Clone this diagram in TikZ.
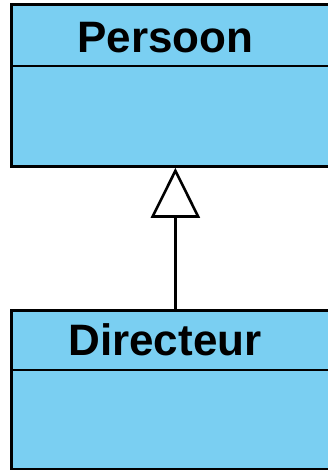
\documentclass[tikz,border=0pt]{standalone}
\usepackage{fontspec}
\setmainfont{Liberation Sans}
\usetikzlibrary{arrows.meta}
\definecolor{classfill}{RGB}{122,207,242}
\begin{document}
\begin{tikzpicture}[x=1pt,y=1pt,
  classbox/.style={draw=black, fill=classfill, line width=2.8pt, rectangle,
    anchor=north west, inner sep=0pt, minimum width=328pt},
  classname/.style={font=\bfseries\fontsize{44}{44}\selectfont, anchor=base, inner sep=0pt},
  divider/.style={draw=black, line width=2.8pt},
  inherit/.style={draw=black, line width=2.6pt,
    -{Triangle[open, length=50pt, width=49pt, line width=2.6pt]}}]
  \useasboundingbox (0,0) rectangle (328,-470);
  \clip (0,0) rectangle (328,-470);
  % superclass
  \node[classbox, minimum height=162pt] (persoon) at (10,-3) {};
  \draw[divider] (10,-66) -- (338,-66);
  \node[classname] (persoonname) at (165.5,-53) {Persoon};
  % subclass
  \node[classbox, minimum height=159pt] (directeur) at (10,-309) {};
  \draw[divider] (10,-370) -- (338,-370);
  \node[classname] (directeurname) at (165,-355) {Directeur};
  % generalisation
  \draw[inherit] (directeur.north) -- (persoon.south);
\end{tikzpicture}
\end{document}
